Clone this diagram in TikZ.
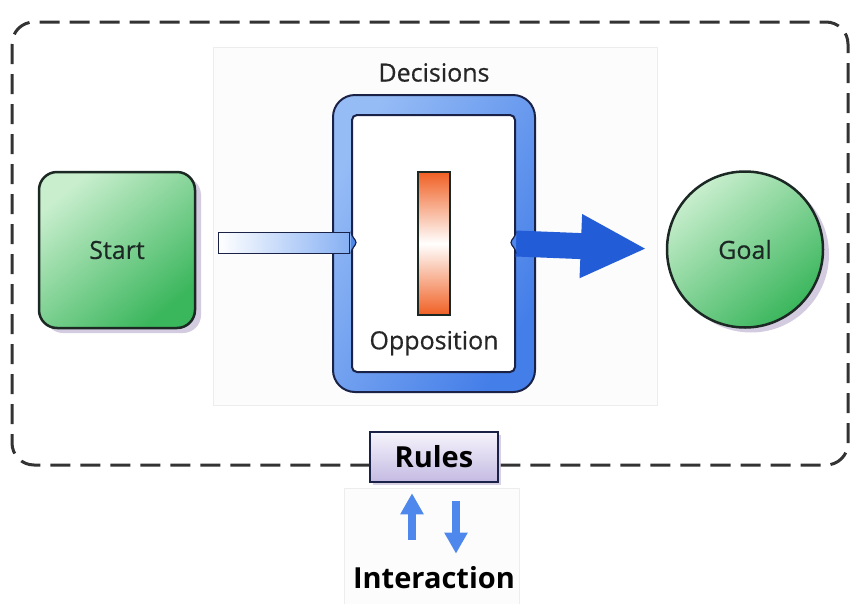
\documentclass[tikz,border=0pt]{standalone}
\usepackage{fontspec}
\setmainfont{Open Sans}
\newfontfamily\labelfont{Open Sans}[FakeBold=0.5]
\usetikzlibrary{shapes.geometric, arrows.meta, positioning, shadows}

\definecolor{darkline}{RGB}{28,40,36}
\definecolor{navyline}{RGB}{26,34,72}
\definecolor{greenlight}{RGB}{200,238,205}
\definecolor{greendark}{RGB}{58,182,92}
\definecolor{framelight}{RGB}{150,188,246}
\definecolor{frameblue}{RGB}{68,126,232}
\definecolor{arrowblue}{RGB}{34,92,214}
\definecolor{oppcolor}{RGB}{240,96,36}
\definecolor{rulestop}{RGB}{246,244,252}
\definecolor{rulesbottom}{RGB}{196,186,226}
\definecolor{flowblue}{RGB}{78,136,236}
\definecolor{shadowcol}{RGB}{200,190,215}

\begin{document}
\begin{tikzpicture}[
    x=1pt, y=-1pt,
    font=\labelfont\fontsize{25}{30}\selectfont,
    dashframe/.style={draw=black!80, line width=3pt, dash pattern=on 20pt off 10pt, rounded corners=22pt},
    panel/.style={rectangle, draw=black!7, fill=black!1, line width=1pt},
    startbox/.style={rectangle, draw=darkline, line width=2.5pt, rounded corners=18pt, minimum size=156pt,
        top color=greenlight, bottom color=greendark, shading angle=40,
        drop shadow={shadow xshift=6pt, shadow yshift=-5pt, fill=shadowcol, opacity=.8}},
    goalbox/.style={circle, draw=darkline, line width=2.5pt, minimum size=156pt,
        top color=greenlight, bottom color=greendark, shading angle=40,
        drop shadow={shadow xshift=6pt, shadow yshift=-5pt, fill=shadowcol, opacity=.8}},
    frame/.style={rectangle, draw=navyline, line width=2pt, rounded corners=22pt,
        top color=framelight, bottom color=frameblue, shading angle=60},
    hole/.style={rectangle, draw=navyline, line width=2pt, rounded corners=5pt, fill=white},
    inbar/.style={rectangle, draw=navyline, line width=1.2pt, left color=white, right color=framelight!80!frameblue,
        minimum height=21pt, inner sep=0pt},
    oppbar/.style={rectangle, draw=darkline, line width=1.5pt, minimum width=32pt, minimum height=143pt,
        top color=oppcolor, bottom color=oppcolor, middle color=white},
    rulesbox/.style={rectangle, draw=navyline, line width=2.5pt, minimum width=128pt, minimum height=50pt,
        top color=rulestop, bottom color=rulesbottom, font=\fontsize{29}{34}\selectfont\bfseries,
        drop shadow={shadow xshift=3pt, shadow yshift=-3pt, fill=shadowcol, opacity=.7}},
    word/.style={inner sep=0pt, text=black!85},
    notch/.style={fill=frameblue!85!framelight, draw=navyline, line width=1.2pt},
    outflow/.style={line width=26pt, arrowblue, -{Triangle[length=66pt, width=59pt]}},
    flow/.style={line width=8pt, flowblue, -{Triangle[length=21pt, width=22pt]}}
]
    \useasboundingbox (0,0) rectangle (852,603);

    % Frame and panels
    \node[panel, minimum width=444pt, minimum height=358pt] (panel) at (435,226) {};
    \node[panel, minimum width=175pt, minimum height=116pt] (lowpanel) at (432,546) {};
    \draw[dashframe] (12,22) rectangle (848,465);

    % Start and Goal
    \node[startbox] (start) at (117,250) {\textcolor{darkline}{Start}};
    \node[goalbox] (goal) at (745,249.5) {\textcolor{darkline}{Goal}};

    % Decisions
    \node[frame, minimum width=202pt, minimum height=297pt] (decframe) at (434,243.5) {};
    \node[hole, minimum width=163pt, minimum height=257pt] (dechole) at (433.5,243.5) {};
    \node[word, above=12pt of decframe] (decisions) {Decisions};

    % Opposition
    \node[oppbar] (opp) at (434,243.5) {};
    \node[word, below=15pt of opp] (opposition) {Opposition};

    % Links
    \node[inbar, minimum width=131pt] (input) at (284,243) {};
    \draw[outflow, shorten >=19pt] (dechole.east) -- (goal.west);
    \draw[notch] ([yshift=12pt]dechole.west) .. controls ++(0,5) and ++(0,-3) .. ++(5,11)
        .. controls ++(0,3) and ++(0,-5) .. ++(-5,11);
    \draw[notch] ([yshift=12pt]dechole.east) .. controls ++(0,5) and ++(0,-3) .. ++(-5,11)
        .. controls ++(0,3) and ++(0,-5) .. ++(5,11);

    % Rules and Interaction
    \node[rulesbox] (rules) at (434,457) {Rules};
    \node[word, font=\fontsize{29}{34}\selectfont\bfseries, text=black] (interaction) at (434,578) {Interaction};
    \draw[flow, shorten <=27pt, shorten >=10pt]
        ([xshift=-22pt]rules.south |- interaction.north) -- ([xshift=-22pt]rules.south);
    \draw[flow, shorten <=18pt, shorten >=13pt]
        ([xshift=22pt]rules.south) -- ([xshift=22pt]rules.south |- interaction.north);
\end{tikzpicture}
\end{document}
